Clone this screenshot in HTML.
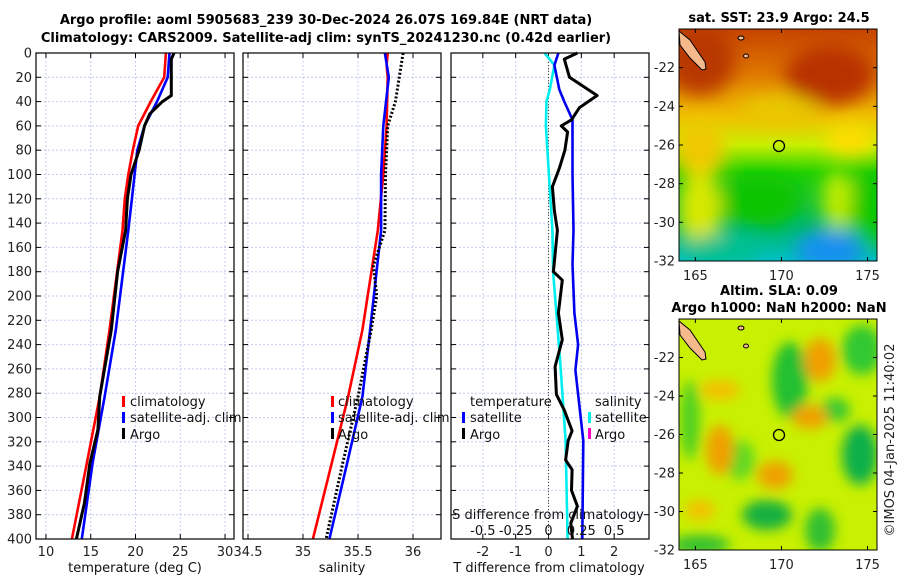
<!DOCTYPE html>
<html><head><meta charset="utf-8"><style>
body{margin:0;background:#fff;}
svg{display:block;font-family:"DejaVu Sans","Liberation Sans",sans-serif;}
</style></head><body>
<svg id="fig" width="900" height="580" viewBox="0 0 900 580">
<defs>
<filter id="bl" x="-20%" y="-20%" width="140%" height="140%"><feGaussianBlur stdDeviation="9"/></filter>
<filter id="bl2" x="-20%" y="-20%" width="140%" height="140%"><feGaussianBlur stdDeviation="6"/></filter>
<clipPath id="c1"><rect x="679" y="29" width="198" height="232"/></clipPath>
<clipPath id="c2"><rect x="679" y="319" width="198" height="231"/></clipPath>
<linearGradient id="sstg" x1="0" y1="0" x2="0" y2="1">
<stop offset="0" stop-color="#c64400"/><stop offset="0.2" stop-color="#e07a00"/><stop offset="0.38" stop-color="#f0c000"/><stop offset="0.5" stop-color="#c8f000"/><stop offset="0.62" stop-color="#20d000"/><stop offset="0.85" stop-color="#00b860"/><stop offset="1" stop-color="#00c0c8"/>
</linearGradient>
</defs>
<g font-weight="bold" font-size="13" text-anchor="middle" fill="#000">
<text x="326" y="24">Argo profile: aoml 5905683_239 30-Dec-2024 26.07S 169.84E (NRT data)</text>
<text x="326" y="42">Climatology: CARS2009. Satellite-adj clim: synTS_20241230.nc (0.42d earlier)</text>
</g>
<g id="panels"></g>

<!-- SST map -->
<g>
<g clip-path="url(#c1)">
<rect x="679" y="29" width="198" height="232" fill="url(#sstg)"/>
<g filter="url(#bl)">
<ellipse cx="700" cy="60" rx="35" ry="35" fill="#b83800"/>
<ellipse cx="830" cy="75" rx="45" ry="30" fill="#b83000"/>
<ellipse cx="700" cy="150" rx="25" ry="30" fill="#f0c800"/>
<ellipse cx="700" cy="210" rx="22" ry="40" fill="#d8e800"/>
<ellipse cx="780" cy="110" rx="40" ry="15" fill="#e8c800"/>
<ellipse cx="850" cy="140" rx="25" ry="15" fill="#ffdc00"/>
<ellipse cx="838" cy="200" rx="16" ry="30" fill="#c0ec00"/>
<ellipse cx="870" cy="210" rx="20" ry="40" fill="#10c800"/>
<ellipse cx="760" cy="200" rx="40" ry="25" fill="#10c400"/>
<ellipse cx="830" cy="250" rx="35" ry="20" fill="#1890f0"/>
<ellipse cx="720" cy="250" rx="40" ry="15" fill="#00c090"/>
</g>
</g>
<path d="M679,31 L690,40 L705,62 L706,69 L702,70 L690,58 L680,45 Z" fill="#f5b98c" stroke="#000" stroke-width="1"/>
<ellipse cx="741" cy="38" rx="3" ry="2" fill="#f5b98c" stroke="#000"/>
<ellipse cx="746" cy="56" rx="2.5" ry="2" fill="#f5b98c" stroke="#000"/>
<circle cx="779" cy="146" r="5.5" fill="none" stroke="#000" stroke-width="1.3"/>
<rect x="679" y="29" width="198" height="232" fill="none" stroke="#000"/>
</g>

<!-- SLA map -->
<g>
<g clip-path="url(#c2)">
<rect x="679" y="319" width="198" height="231" fill="#c8f000"/>
<g filter="url(#bl2)">
<ellipse cx="790" cy="380" rx="18" ry="38" fill="#20c030"/>
<ellipse cx="862" cy="350" rx="20" ry="25" fill="#30c830"/>
<ellipse cx="860" cy="455" rx="18" ry="30" fill="#10b048"/>
<ellipse cx="835" cy="410" rx="15" ry="12" fill="#38c830"/>
<ellipse cx="767" cy="515" rx="25" ry="15" fill="#18b040"/>
<ellipse cx="700" cy="545" rx="30" ry="10" fill="#30c030"/>
<ellipse cx="820" cy="530" rx="15" ry="22" fill="#30c030"/>
<ellipse cx="690" cy="420" rx="10" ry="40" fill="#50d020"/>
<ellipse cx="740" cy="460" rx="15" ry="20" fill="#60d820"/>
<ellipse cx="720" cy="450" rx="14" ry="25" fill="#f0a000"/>
<ellipse cx="820" cy="360" rx="16" ry="22" fill="#f0a000"/>
<ellipse cx="810" cy="417" rx="18" ry="12" fill="#f0a000"/>
<ellipse cx="775" cy="475" rx="18" ry="14" fill="#f0a000"/>
<ellipse cx="720" cy="390" rx="20" ry="10" fill="#f4c000"/>
<ellipse cx="700" cy="510" rx="15" ry="10" fill="#f4c000"/>
</g>
</g>
<path d="M679,321 L690,330 L705,352 L706,359 L702,360 L690,348 L680,335 Z" fill="#f5b98c" stroke="#000" stroke-width="1"/>
<ellipse cx="741" cy="328" rx="3" ry="2" fill="#f5b98c" stroke="#000"/>
<ellipse cx="746" cy="346" rx="2.5" ry="2" fill="#f5b98c" stroke="#000"/>
<circle cx="779" cy="435" r="5.5" fill="none" stroke="#000" stroke-width="1.3"/>
<rect x="679" y="319" width="198" height="231" fill="none" stroke="#000"/>
</g>
<g font-weight="bold" font-size="13" text-anchor="middle">
<text x="779" y="22">sat. SST: 23.9 Argo: 24.5</text>
<text x="779" y="295">Altim. SLA: 0.09</text>
<text x="779" y="312">Argo h1000: NaN h2000: NaN</text>
</g>
<text transform="translate(894,440) rotate(-90)" font-size="13" text-anchor="middle" fill="#222">©IMOS 04-Jan-2025 11:40:02</text>
<g id="mapaxes"></g>
</svg>
<script>
// ---- data ----
const depthTicks = [0,20,40,60,80,100,120,140,160,180,200,220,240,260,280,300,320,340,360,380,400];
const tTicks = [10,15,20,25,30];
const sTicks = [34.5,35,35.5,36];
const dTicks = [-2,-1,0,1,2];
const sdTickLabels = ["-0.5","-0.25","0","0.25","0.5"];
const sdTickValues = [-0.5,-0.25,0,0.25,0.5];

const tClimDepth = [0,20,40,60,80,100,120,146,228,283,338,400];
const tClim      = [23.4,23.2,21.7,20.3,19.7,19.2,18.8,18.55,17.1,16.0,14.55,12.9];
const tSatDepth  = [0,20,40,60,80,100,120,146,228,283,338,400];
const tSat       = [23.8,23.6,22.4,21.0,20.2,19.9,19.6,19.2,17.8,16.55,15.2,14.0];
const tArgoDepth = [0,5,35,40,50,60,80,100,120,146,180,228,283,310,338,370,400];
const tArgo      = [24.3,24.0,24.0,23.0,21.6,21.0,20.4,19.5,19.1,18.9,18.0,17.3,16.0,15.8,14.9,14.3,13.4];

const sClimDepth = [0,10,20,60,100,146,228,283,338,400];
const sClim      = [35.77,35.76,35.77,35.76,35.73,35.68,35.54,35.41,35.26,35.09];
const sSatDepth  = [0,20,60,100,146,228,283,338,400];
const sSat       = [35.745,35.78,35.73,35.71,35.71,35.61,35.54,35.40,35.24];
const sArgoDepth = [0,40,60,100,146,175,200,228,283,338,400];
const sArgo      = [35.91,35.84,35.77,35.75,35.745,35.64,35.67,35.62,35.50,35.36,35.21];

const dTSatDepth = [0,10,30,40,55,100,146,174,214,240,261,319,400];
const dTSat      = [0.3,0.18,0.33,0.48,0.73,0.73,0.76,0.73,0.79,0.9,0.82,1.06,1.03];
const dSSatDepth = [0,10,30,40,60,146,180,255,319,400];
const dSSat      = [-0.03,0.045,0.01,-0.015,-0.02,0.03,0.035,0.09,0.13,0.145];
const dTArgoDepth= [0,5,20,35,45,55,60,65,80,95,110,130,146,180,187,214,236,258,281,294,311,319,335,343,360,373,387,400];
const dTArgo     = [0.88,0.48,0.64,1.48,0.94,0.7,0.39,0.58,0.5,0.33,0.12,0.18,0.27,0.15,0.42,0.3,0.42,0.2,0.24,0.48,0.72,0.6,0.52,0.72,0.7,0.88,0.68,0.73];

const lonTicks=[165,170,175];
const latTicks=[-22,-24,-26,-28,-30,-32];

// ---- drawing ----
const NS="http://www.w3.org/2000/svg";
const root=document.getElementById('panels');
function mk(tag,attrs,parent){const e=document.createElementNS(NS,tag);for(const k in attrs)e.setAttribute(k,attrs[k]);(parent||root).appendChild(e);return e;}
const yTop=53, yBot=539;
function yScale(d){return yTop+(yBot-yTop)*d/400;}

function panel(name,x0,x1,xmin,xmax,xticks,xlabels,showY){
  const g=mk('g',{});
  
  
  const xs=v=>x0+(x1-x0)*(v-xmin)/(xmax-xmin);
  xticks.forEach(v=>{mk('line',{x1:xs(v),x2:xs(v),y1:yTop,y2:yBot,stroke:'#c4ccf0','stroke-dasharray':'2,2','stroke-width':1},g);});
  depthTicks.forEach(d=>{mk('line',{x1:x0,x2:x1,y1:yScale(d),y2:yScale(d),stroke:'#c4ccf0','stroke-dasharray':'2,2','stroke-width':1},g);});
  depthTicks.forEach(d=>{
    mk('line',{x1:x0,x2:x0+5,y1:yScale(d),y2:yScale(d),stroke:'#000'},g);
    mk('line',{x1:x1-5,x2:x1,y1:yScale(d),y2:yScale(d),stroke:'#000'},g);
    if(showY){const t=mk('text',{x:x0-4,y:yScale(d)+4.5,'font-size':13,'text-anchor':'end',fill:'#222'},g);t.textContent=d;
      }
  });
  xticks.forEach((v,i)=>{
    mk('line',{x1:xs(v),x2:xs(v),y1:yBot,y2:yBot-5,stroke:'#000'},g);
    mk('line',{x1:xs(v),x2:xs(v),y1:yTop,y2:yTop+5,stroke:'#000'},g);
    const t=mk('text',{x:xs(v),y:556,'font-size':13,'text-anchor':'middle',fill:'#222'},g);t.textContent=xlabels[i];
    
  });
  return {g,xs,x0,x1};
}
function line(p,vals,depths,color,name,dash,w){
  const d=vals.map((v,i)=>(i?'L':'M')+p.xs(v).toFixed(1)+','+yScale(depths[i]).toFixed(1)).join(' ');
  const a={d:d,fill:'none',stroke:color,'stroke-width':w||2.6,'stroke-linejoin':'round'};
  if(dash)a['stroke-dasharray']=dash;
  const e=mk('path',a,p.g);
  
  
}
function frame(p){mk('rect',{x:p.x0,y:yTop,width:p.x1-p.x0,height:yBot-yTop,fill:'none',stroke:'#000','stroke-width':1.2},p.g);}
function txt(p,x,y,s,name,anchor,size){const t=mk('text',{x:x,y:y,'font-size':size||13,'text-anchor':anchor||'start',fill:'#111'},p.g);t.textContent=s;
  return t;}
function mark(p,x,y,c,name){const r=mk('rect',{x:x,y:y-6,width:3,height:11,fill:c},p.g);
  }

// panel 1
const p1=panel('temperature-panel',36,234,10-10/9,30+9/9,tTicks,tTicks.map(String),true);
line(p1,tClim,tClimDepth,'#ff0000','temperature-climatology-line');
line(p1,tSat,tSatDepth,'#0000ff','temperature-satellite-line');
line(p1,tArgo,tArgoDepth,'#000','temperature-argo-line',null,3);
frame(p1);
txt(p1,135,572,'temperature (deg C)','temperature-axis-title','middle');
mark(p1,122,402,'#ff0000','legend-climatology-mark');txt(p1,130,406,'climatology','legend-climatology');
mark(p1,122,418,'#0000ff','legend-satellite-mark');txt(p1,130,422,'satellite-adj. clim','legend-satellite');
mark(p1,122,434,'#000','legend-argo-mark');txt(p1,130,439,'Argo','legend-argo');

// panel 2
const p2=panel('salinity-panel',243,441,34.5-5/110,36+28/110,sTicks,['34.5','35','35.5','36'],false);
line(p2,sClim,sClimDepth,'#ff0000','salinity-climatology-line');
line(p2,sSat,sSatDepth,'#0000ff','salinity-satellite-line');
line(p2,sArgo,sArgoDepth,'#000','salinity-argo-line','2,2',3);
frame(p2);
txt(p2,342,572,'salinity','salinity-axis-title','middle');
mark(p2,331,402,'#ff0000','legend-climatology-mark');txt(p2,338,406,'climatology','legend-climatology');
mark(p2,331,418,'#0000ff','legend-satellite-mark');txt(p2,338,422,'satellite-adj. clim','legend-satellite');
mark(p2,331,434,'#000','legend-argo-mark');txt(p2,338,439,'Argo','legend-argo');

// panel 3
const p3=panel('difference-panel',451,649,-2-32/33,2+35/33,dTicks,dTicks.map(String),false);
const z=p3.xs(0);
mk('line',{x1:z,x2:z,y1:yTop,y2:yBot,stroke:'#444422','stroke-dasharray':'1,2','stroke-width':1},p3.g);
const sdAsT=dSSat.map(v=>v*4);
line(p3,sdAsT,dSSatDepth,'#00eeee','salinity-difference-satellite-line');
line(p3,dTSat,dTSatDepth,'#0000ee','temperature-difference-satellite-line');
line(p3,dTArgo,dTArgoDepth,'#000','temperature-difference-argo-line',null,3);
frame(p3);
txt(p3,549,572,'T difference from climatology','t-diff-axis-title','middle');
txt(p3,548,519,'S difference from climatology','s-diff-axis-title','middle');
sdTickValues.forEach((v,i)=>{txt(p3,p3.xs(v*4),535,sdTickLabels[i],'s-diff-tick-label','middle');});
txt(p3,470,406,'temperature','legend-temperature-header');
mark(p3,462,418,'#0000ff','legend-t-satellite-mark');txt(p3,470,422,'satellite','legend-t-satellite');
mark(p3,462,434,'#000','legend-t-argo-mark');txt(p3,470,439,'Argo','legend-t-argo');
txt(p3,595,406,'salinity','legend-salinity-header');
mark(p3,588,418,'#00eeee','legend-s-satellite-mark');txt(p3,595,422,'satellite','legend-s-satellite');
mark(p3,588,434,'#ff00cc','legend-s-argo-mark');txt(p3,595,439,'Argo','legend-s-argo');

// map axes
const ma=document.getElementById('mapaxes');
function mapAxes(top,bot,lblY){
  const lonX=l=>679+(l-164.05)*(198/11.5);
  const latY=l=>top+(bot-top)*(-20-l)/12;
  lonTicks.forEach(l=>{
    mk('line',{x1:lonX(l),x2:lonX(l),y1:bot,y2:bot-4,stroke:'#000'},ma);
    mk('line',{x1:lonX(l),x2:lonX(l),y1:top,y2:top+4,stroke:'#000'},ma);
    const t=mk('text',{x:lonX(l),y:lblY,'font-size':13,'text-anchor':'middle',fill:'#222'},ma);t.textContent=l;
    
  });
  latTicks.forEach(l=>{
    mk('line',{x1:679,x2:683,y1:latY(l),y2:latY(l),stroke:'#000'},ma);
    mk('line',{x1:873,x2:877,y1:latY(l),y2:latY(l),stroke:'#000'},ma);
    const t=mk('text',{x:675,y:latY(l)+4.5,'font-size':13,'text-anchor':'end',fill:'#222'},ma);t.textContent=l;
    
  });
}
mapAxes(29,261,280);
mapAxes(319,550,569);
</script>
</body></html>
